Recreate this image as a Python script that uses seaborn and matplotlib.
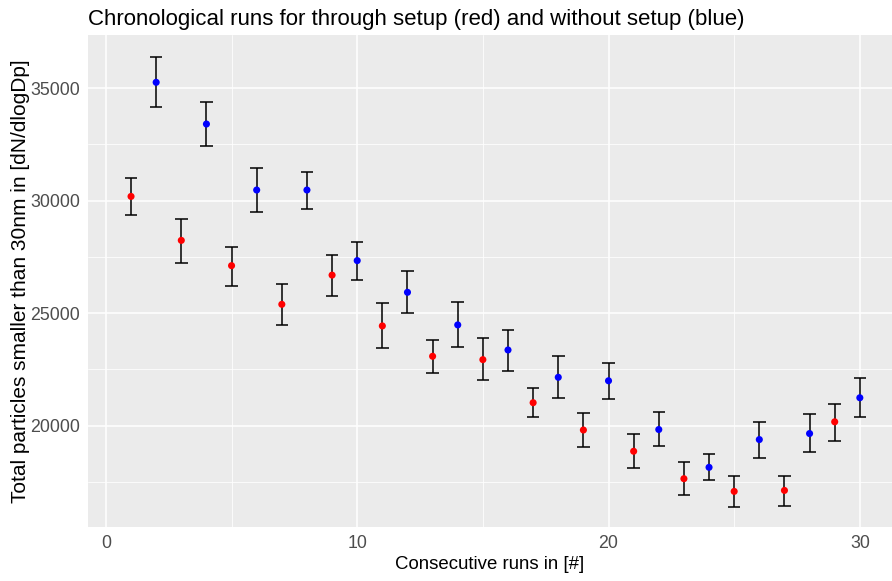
import matplotlib
matplotlib.use("Agg")
import matplotlib.pyplot as plt
import numpy as np
import pandas as pd
import seaborn as sns

# Values
runs = list(range(1, 31))
setup = ["through", "without"] * 15
mean = [30190, 35265, 28235, 33410, 27110, 30475, 25390, 30475, 26690, 27335,
        24430, 25925, 23080, 24475, 22930, 23360, 21015, 22145, 19800, 21990,
        18855, 19822, 17635, 18140, 17070, 19375, 17113, 19643, 20165, 21235]
upper = [31020, 36390, 29200, 34390, 27940, 31468, 26307, 31290, 27568, 28170,
         25452, 26862, 23820, 25497, 23879, 24235, 21668, 23078, 20555, 22775,
         19643, 20580, 18378, 18750, 17768, 20164, 17768, 20491, 20967, 22128]
lower = [29347, 34152, 27242, 32432, 26218, 29496, 24454, 29629, 25759, 26490,
         23449, 24992, 22321, 23493, 22039, 22410, 20362, 21208, 19056, 21200,
         18095, 19078, 16890, 17590, 16370, 18572, 16429, 18810, 19331, 20357]

df = pd.DataFrame({"run": runs, "setup": setup, "mean": mean,
                   "upper": upper, "lower": lower})

sns.set_theme(style="darkgrid", rc={
    "axes.facecolor": "#EBEBEB",
    "grid.color": "white",
})
plt.rcParams["font.family"] = ["Liberation Sans", "DejaVu Sans"]

fig = plt.figure(figsize=(8.92, 5.81), dpi=100)
ax = fig.add_axes([0.0983, 0.0929, 0.9017, 0.8474])

# error bars: ggplot-like caps of width 0.5
ax.vlines(df["run"], df["lower"], df["upper"], color="black", lw=1.1, zorder=2)
ax.hlines(df["upper"], df["run"] - 0.25, df["run"] + 0.25, color="black", lw=1.1, zorder=2)
ax.hlines(df["lower"], df["run"] - 0.25, df["run"] + 0.25, color="black", lw=1.1, zorder=2)

sns.scatterplot(data=df, x="run", y="mean", hue="setup",
                palette={"through": "#FF0000", "without": "#0000FF"},
                s=26, linewidth=0, legend=False, ax=ax, zorder=3)

ax.set_xlim(-0.725, 31.28)
ax.set_ylim(15485, 37384)
ax.set_xticks([0, 10, 20, 30])
ax.set_yticks([20000, 25000, 30000, 35000])
ax.set_xticks([5, 15, 25], minor=True)
ax.set_yticks([17500, 22500, 27500, 32500], minor=True)
ax.grid(which="major", color="white", lw=1.1)
ax.grid(which="minor", color="white", lw=0.55)
for s in ax.spines.values():
    s.set_visible(False)

ax.tick_params(axis="both", which="major", length=3.5, width=0.8, color="#333333",
               labelcolor="#4D4D4D", labelsize=12.8, pad=2)
ax.tick_params(axis="both", which="minor", length=0)

ax.set_xlabel("Consecutive runs in [#]", fontsize=13.4, color="black", labelpad=3)
ax.set_ylabel("Total particles smaller than 30nm in [dN/dlogDp]", fontsize=15,
              color="black", labelpad=0)
ax.set_title("Chronological runs for through setup (red) and without setup (blue)",
             loc="left", fontsize=16, color="black", pad=7)

fig.savefig("out.png", dpi=100)
